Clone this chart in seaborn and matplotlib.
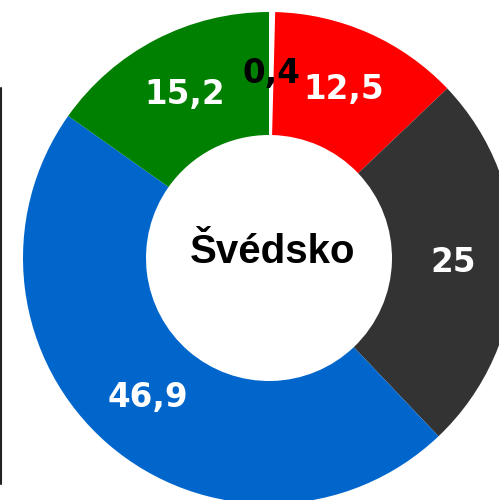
import matplotlib
matplotlib.use("Agg")
import matplotlib.pyplot as plt
import seaborn as sns
import numpy as np
from matplotlib.lines import Line2D

sns.set_theme(style="white")

# Data
parties = ["Ostatní", "Levice", "Pravice", "Střed", "Zelení"]
values = [0.4, 12.5, 25.0, 46.9, 15.2]
value_labels = ["0,4", "12,5", "25", "46,9", "15,2"]
colors = ["#ffffff", "#ff0000", "#333333", "#0066cc", "#008000"]
label_colors = ["#000000", "#ffffff", "#ffffff", "#ffffff", "#ffffff"]
center_title = "Švédsko"

W, H = 499, 500
fig = plt.figure(figsize=(W / 100, H / 100), dpi=100)
ax = fig.add_axes([0, 0, 1, 1])

cx, cy_top, R = 269, 258, 246  # pixel center (from top) and outer radius
cy = H - cy_top
r_in = 123

ring_width = 1 - r_in / R
wedges, _ = ax.pie(values, colors=colors, startangle=90, counterclock=False,
                   radius=1.0, wedgeprops=dict(width=ring_width, linewidth=0),
                   frame=False)
ax.set_xlim(-cx / R, (W - cx) / R)
ax.set_ylim(-cy / R, (H - cy) / R)
ax.set_aspect("auto")
ax.axis("off")

r_lab = 1.0 - ring_width / 2
for w, lab, lc in zip(wedges, value_labels, label_colors):
    ang = np.deg2rad((w.theta1 + w.theta2) / 2)
    ax.text(r_lab * np.cos(ang), r_lab * np.sin(ang), lab, ha="center", va="center",
            color=lc, fontsize=23.5, fontweight="bold", family="DejaVu Sans")

ax.text((273 - cx) / R, (cy_top - 252) / R, center_title, ha="center", va="center",
        fontsize=29, fontweight="bold", family="Liberation Sans", color="#000000")

fig.add_artist(Line2D([0.002, 0.002], [1 - 88 / H, 1 - 484 / H], color="#222222",
                      linewidth=1.5, transform=fig.transFigure))

fig.savefig("out.png", dpi=100)
